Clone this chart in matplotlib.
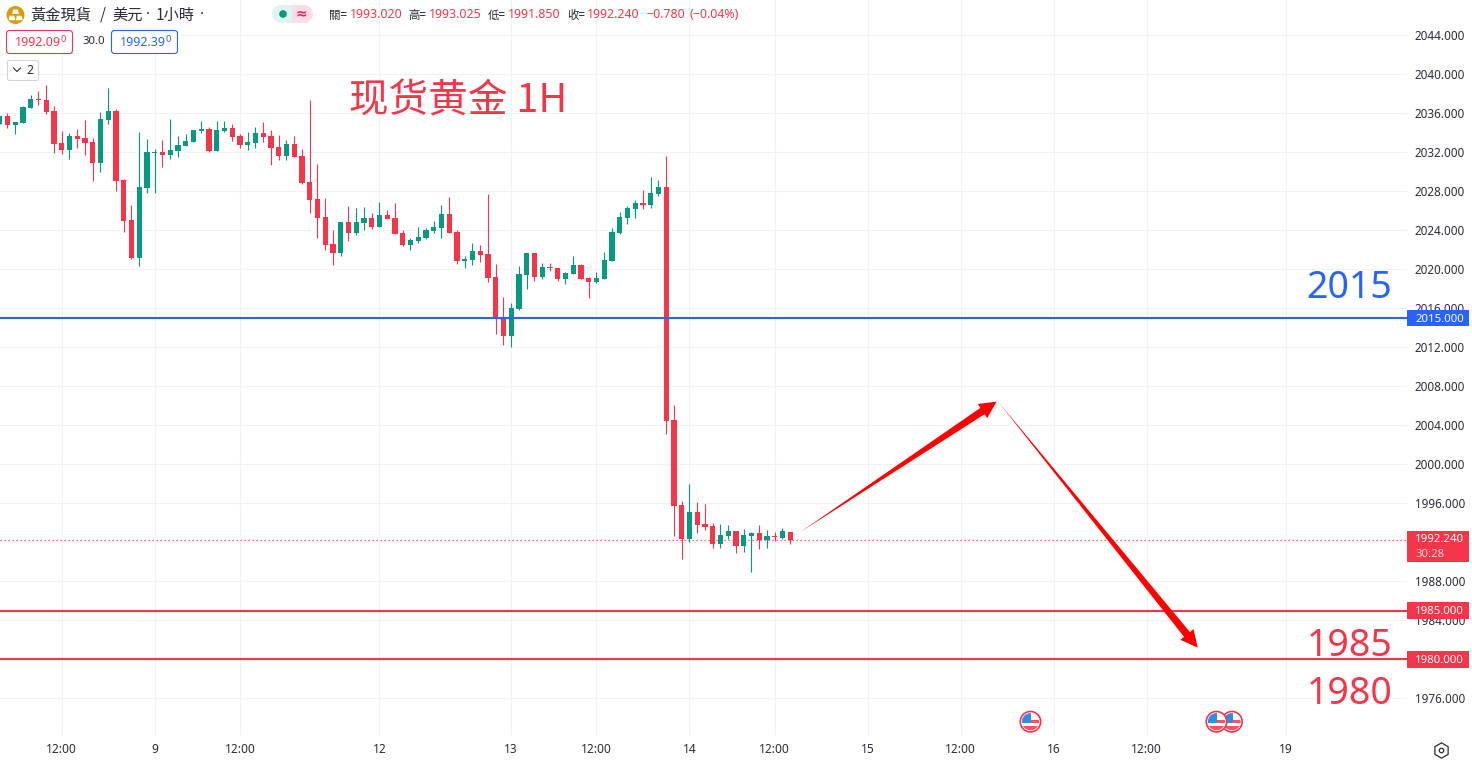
import matplotlib
matplotlib.use("Agg")
import matplotlib.pyplot as plt
import numpy as np
from matplotlib.patches import Circle, Rectangle, FancyBboxPatch, Polygon
from matplotlib.transforms import IdentityTransform

opens = [2034.87,2035.69,2034.77,2034.97,2036.51,2037.44,2037.33,2036.21,2032.92,2032.21,
         2033.64,2033.44,2033.03,2030.87,2035.28,2036.21,2029.13,2025.03,2021.13,2028.31,
         2031.90,2032.00,2031.69,2032.10,2032.62,2033.03,2034.15,2034.36,2032.10,2034.15,
         2034.46,2033.64,2032.72,2032.92,2033.95,2033.64,2032.51,2031.59,2032.82,2031.59,
         2028.92,2027.18,2025.33,2022.56,2021.64,2024.82,2023.69,2024.72,2025.23,2024.31,
         2025.54,2025.23,2023.69,2022.46,2022.87,2023.18,2023.90,2024.20,2025.64,2023.79,
         2020.82,2020.92,2021.85,2021.54,2019.18,2015.08,2013.13,2015.90,2019.38,2021.64,
         2019.18,2020.20,2020.10,2018.97,2019.49,2020.41,2019.08,2018.67,2018.97,2020.82,
         2023.69,2025.23,2026.15,2026.77,2026.56,2027.69,2028.41,2004.52,1995.80,1992.31,
         1995.08,1993.85,1993.64,1991.80,1992.62,1993.13,1991.59,1992.62,1992.93,1992.21,
         1992.62,1992.41,1993.02]
highs = [2035.73,2036.00,2035.08,2036.72,2037.85,2038.25,2038.87,2036.72,2034.15,2033.95,
         2034.36,2035.28,2033.44,2036.10,2038.56,2036.41,2029.23,2026.56,2034.05,2033.33,
         2032.31,2033.23,2035.38,2033.64,2033.85,2034.26,2035.18,2034.56,2035.18,2035.18,
         2034.87,2033.85,2034.05,2034.56,2035.08,2034.26,2033.74,2033.23,2033.64,2032.31,
         2037.33,2030.77,2027.28,2024.00,2024.82,2026.46,2026.26,2026.36,2025.74,2026.87,
         2026.05,2026.77,2024.00,2023.18,2024.31,2024.20,2024.92,2026.56,2027.38,2024.00,
         2021.33,2022.67,2022.46,2027.69,2020.51,2017.13,2016.51,2020.31,2021.64,2021.64,
         2020.61,2020.61,2020.10,2019.69,2021.33,2020.51,2019.18,2019.69,2021.74,2024.20,
         2025.85,2026.46,2027.08,2028.10,2029.44,2029.13,2031.60,2006.05,1996.21,1997.95,
         1996.11,1995.90,1993.95,1993.85,1993.75,1993.13,1993.34,1993.03,1993.75,1993.23,
         1993.03,1993.44,1993.025]
lows = [2034.87,2034.46,2033.85,2034.97,2036.51,2036.82,2035.90,2031.90,2031.80,2031.28,
        2032.41,2031.69,2029.03,2029.95,2034.87,2028.00,2023.79,2021.03,2020.31,2027.79,
        2027.79,2030.46,2031.28,2031.49,2032.62,2033.03,2033.95,2032.00,2032.10,2034.05,
        2033.13,2032.41,2032.21,2032.41,2033.03,2030.67,2031.18,2031.18,2031.49,2028.72,
        2025.74,2023.18,2021.95,2020.41,2021.33,2022.87,2023.49,2024.00,2024.10,2024.31,
        2025.13,2023.59,2022.36,2021.95,2022.67,2023.08,2023.69,2023.18,2023.69,2020.51,
        2020.10,2020.41,2020.72,2018.67,2013.33,2012.20,2012.00,2015.79,2017.95,2018.77,
        2018.97,2019.79,2018.77,2018.46,2019.49,2018.97,2017.02,2018.56,2018.97,2020.82,
        2023.59,2024.61,2025.23,2026.15,2026.26,2027.49,2003.08,1992.62,1990.26,1992.00,
        1992.93,1993.23,1991.39,1991.39,1992.31,1990.88,1990.98,1988.93,1991.29,1991.39,
        1992.11,1992.31,1991.85]
closes = [2035.73,2034.77,2035.08,2036.62,2037.44,2037.37,2036.10,2032.82,2032.21,2033.64,
          2033.33,2032.92,2030.87,2035.38,2036.21,2029.03,2024.92,2021.13,2028.41,2032.00,
          2032.00,2031.69,2032.21,2032.72,2033.13,2034.26,2034.36,2032.10,2034.26,2034.46,
          2033.54,2032.72,2033.03,2033.95,2033.54,2032.41,2031.59,2032.82,2031.49,2028.82,
          2027.08,2025.23,2022.46,2021.64,2024.82,2023.69,2024.82,2025.23,2024.31,2025.54,
          2025.13,2023.59,2022.46,2022.97,2023.28,2024.00,2024.31,2025.64,2023.69,2020.82,
          2021.02,2021.85,2021.44,2019.08,2014.97,2013.13,2016.00,2019.49,2021.64,2019.18,
          2020.20,2020.10,2018.97,2019.59,2020.41,2018.97,2018.67,2019.08,2020.92,2023.79,
          2025.33,2026.26,2026.77,2026.56,2027.79,2028.41,2004.41,1995.70,1992.31,1995.08,
          1993.75,1993.54,1991.80,1992.72,1993.13,1991.59,1992.72,1992.93,1992.21,1992.62,
          1992.52,1993.13,1992.24]

x_tick_pos = [8, 20, 31, 49, 66, 77, 89, 100, 112, 124, 136, 148, 166]
x_tick_labels = ["12:00", "9", "12:00", "12", "13", "12:00", "14", "12:00", "15", "12:00", "16", "12:00", "19"]
y_ticks = list(range(1976, 2045, 4))
level_blue = 2015.0
levels_red = [1985.0, 1980.0]
last_price = 1992.24
arrow_up_x, arrow_up_y = [103.26, 128.64], [1993.03, 2006.43]
arrow_down_x, arrow_down_y = [128.80, 154.58], [2006.46, 1981.20]
bid, spread, ask = "1992.09", "30.0", "1992.39"
ohlc_labels = ["關=", "高=", "低=", "收="]
ohlc_values = ["1993.020", "1993.025", "1991.850", "1992.240"]
change_text = ["−0.780", "(−0.04%)"]
event_bars = [133, 157, 159]

RED = "#F5364A"
GREEN = "#089981"
BLUE = "#2962FF"
TXT = "#2A2E39"
CJK = ["Noto Sans CJK TC", "DejaVu Sans"]
SC = ["Noto Sans CJK SC", "DejaVu Sans"]
NS = "Noto Sans"

W, H, RIGHT, BOTTOM = 1472, 762, 1407, 735
ytop, ybot = 2047.622, 1972.24
fig = plt.figure(figsize=(W / 100, H / 100), dpi=100, facecolor="white")
ax = fig.add_axes([0, 1 - BOTTOM / H, RIGHT / W, BOTTOM / H])
ax.set_xlim(0.0387, 181.59)
ax.set_ylim(ybot, ytop)
for s in ax.spines.values():
    s.set_visible(False)
ax.set_axisbelow(True)
ax.grid(True, color="#F1F2F4", lw=0.75)
ax.yaxis.tick_right()
ax.set_yticks(y_ticks)
ax.set_yticklabels([f"{v:.3f}" for v in y_ticks], fontfamily=NS, fontsize=8.45, color=TXT)
ax.set_xticks(x_tick_pos)
ax.set_xticklabels(x_tick_labels, fontfamily=NS, fontsize=8.6, color=TXT)
ax.get_xticklabels()[3].set_fontweight("bold")
ax.tick_params(axis="y", length=0, pad=5.6)
ax.tick_params(axis="x", length=0, pad=5.8)

# candles
idx = np.arange(len(opens))
o, h, l, c = map(np.array, (opens, highs, lows, closes))
cols = [RED if c_ < o_ else GREEN for o_, c_ in zip(o, c)]
ax.vlines(idx, l, h, colors=cols, lw=0.8, zorder=3)
body_h = np.abs(c - o)
ax.bar(idx, np.maximum(body_h, 0.1), bottom=np.minimum(o, c), width=0.68, color=cols, lw=0, zorder=4)

# levels
ax.axhline(level_blue, color=BLUE, lw=1.5, zorder=5)
for lv in levels_red:
    ax.axhline(lv, color=RED, lw=1.5, zorder=5)
ax.axhline(last_price, color=RED, lw=0.9, ls=(0, (1, 2.2)), zorder=2)

# tapered arrows
def tapered(xs, ys):
    (x0, y0), (x1, y1) = ax.transData.transform(list(zip(xs, ys)))
    p0, p1 = np.array([x0, y0]), np.array([x1, y1])
    u = (p1 - p0) / np.linalg.norm(p1 - p0)
    n = np.array([-u[1], u[0]])
    neck = p1 - u * 17
    pts = [p0, neck + n * 3.8, neck + n * 8.5, p1, neck - n * 8.5, neck - n * 3.8]
    ax.add_patch(Polygon(pts, closed=True, facecolor="#FF0000", edgecolor="none",
                         transform=IdentityTransform(), zorder=6, clip_on=False))

tapered(arrow_up_x, arrow_up_y)
tapered(arrow_down_x, arrow_down_y)

# overlay in screen pixels for the UI furniture
ov = fig.add_axes([0, 0, 1, 1], zorder=10)
ov.set_xlim(0, W)
ov.set_ylim(H, 0)
ov.axis("off")
ov.patch.set_alpha(0)
def py(p):
    return (ytop - p) / (ytop - ybot) * BOTTOM

# header backgrounds
ov.add_patch(Rectangle((0, 0), 206, 28, fc="white", ec="none"))
ov.add_patch(Rectangle((0, 28), 180, 26, fc="white", ec="none"))

# logo
ov.add_patch(Circle((15.5, 15), 9, fc="#DB9C08", ec="none"))
for bx, by in [(12.2, 9.5), (8.6, 15.7), (15.9, 15.7)]:
    ov.add_patch(Polygon([(bx + 1, by), (bx + 5.6, by), (bx + 6.8, by + 4.5), (bx, by + 4.5)], fc="white", ec="none"))
for tx, s in [(30, "黃金現貨"), (100, "/"), (112, "美元"), (156, "1小時")]:
    ov.text(tx, 15, s, family=CJK, fontsize=11, color=TXT, va="center", ha="left")
for tx in (147.5, 201.5):
    ov.text(tx, 15, "·", family=NS, fontsize=11, fontweight="bold", color=TXT, va="center", ha="center")

# status pill
ov.add_patch(FancyBboxPatch((281, 5), 12, 18, boxstyle="round,pad=0,rounding_size=0", fc="#DFF3F0", ec="none"))
ov.add_patch(Circle((281, 14), 9, fc="#DFF3F0", ec="none"))
ov.add_patch(Rectangle((292, 5), 12, 18, fc="#FCDCE6", ec="none"))
ov.add_patch(Circle((304, 14), 9, fc="#FCDCE6", ec="none"))
ov.add_patch(Circle((283, 14), 3.8, fc=GREEN, ec="none"))
ov.text(301, 13.5, "≈", family="DejaVu Sans", fontsize=10, color="#E91E63", ha="center", va="center", fontweight="bold")

# OHLC
lab_x = [329, 408, 488, 567]
val_x = [349.5, 429, 508, 587]
for lx, vx, lb, vl in zip(lab_x, val_x, ohlc_labels, ohlc_values):
    ov.text(lx, 15, lb, family=CJK, fontsize=8.3, color=TXT, va="center", ha="left")
    ov.text(vx, 15, vl, family=NS, fontsize=8.9, color=RED, va="center", ha="left")
ov.text(646, 15, change_text[0], family=NS, fontsize=8.9, color=RED, va="center", ha="left")
ov.text(690, 15, change_text[1], family=NS, fontsize=8.9, color=RED, va="center", ha="left")

# bid / spread / ask
ov.add_patch(FancyBboxPatch((6.5, 30.5), 66, 23, boxstyle="round,pad=0,rounding_size=3", fc="white", ec=RED, lw=0.8))
ov.add_patch(FancyBboxPatch((111.5, 30.5), 66, 23, boxstyle="round,pad=0,rounding_size=3", fc="white", ec=BLUE, lw=0.8))
ov.text(14.5, 42.5, bid, family=NS, fontsize=9, color=RED, va="center", ha="left")
ov.text(60.5, 39.5, "0", family=NS, fontsize=6.8, color=RED, va="center", ha="left")
ov.text(119.5, 42.5, ask, family=NS, fontsize=9, color=BLUE, va="center", ha="left")
ov.text(165.5, 39.5, "0", family=NS, fontsize=6.8, color=BLUE, va="center", ha="left")
ov.text(82, 42, spread, family=NS, fontsize=8.2, color=TXT, va="center", ha="left")
ov.add_patch(FancyBboxPatch((7.5, 60.5), 31, 20, boxstyle="round,pad=0,rounding_size=2", fc="white", ec="#D1D4DC", lw=0.8))
ov.plot([13.5, 17, 20.5], [68, 71.5, 68], color=TXT, lw=0.8)
ov.text(26.5, 70.5, "2", family=NS, fontsize=8.8, color=TXT, va="center", ha="left")

# big annotations
ov.text(349, 100.5, "现货黄金 1H", family=SC, fontsize=28.5, color=RED, va="center", ha="left")
ov.text(1349, 287.5, "2015", family=NS, fontsize=27, color=BLUE, va="center", ha="center")
ov.text(1350, 646.5, "1985", family=NS, fontsize=27, color=RED, va="center", ha="center")
ov.text(1350, 694.5, "1980", family=NS, fontsize=27, color=RED, va="center", ha="center")

# price tags
def tag(p, color):
    y = py(p)
    ov.add_patch(Rectangle((RIGHT, y - 8.4), 62, 16.8, fc=color, ec="none"))
    ov.text(1415, y + 1, f"{p:.3f}", family=NS, fontsize=8.2, color="white", va="center", ha="left", fontweight="bold")

tag(level_blue, BLUE)
for lv in levels_red:
    tag(lv, RED)
y_last = py(last_price)
ov.add_patch(Rectangle((RIGHT, y_last - 9), 62, 31, fc=RED, ec="none"))
ov.text(1415, y_last, f"{last_price:.3f}", family=NS, fontsize=8.2, color="white", va="center", ha="left", fontweight="bold")
ov.text(1415, y_last + 14.5, "30:28", family=NS, fontsize=8.2, color="#FBD0D5", va="center", ha="left")

# event flags
for b in event_bars[::-1]:
    cx = -0.3 + 7.75 * b
    cy = 721.7
    clip = Circle((cx, cy), 8.6, transform=ov.transData)
    ov.add_patch(Circle((cx, cy), 10.6, fc="white", ec="none"))
    parts = [Rectangle((cx - 11, cy - 11), 22, 22, fc="white", ec="none"),
             Rectangle((cx + 1, cy - 1.7), 11, 3.4, fc="#F2555F", ec="none"),
             Rectangle((cx - 11, cy + 4.3), 22, 7, fc="#F2555F", ec="none"),
             Rectangle((cx - 11, cy - 11), 12, 12.7, fc="#2E8DEB", ec="none")]
    for pt in parts:
        ov.add_patch(pt)
        pt.set_clip_path(clip)
    ov.add_patch(Circle((cx, cy), 10.2, fc="none", ec="#F5364A", lw=1.2))

# gear
ov.plot([1441], [750], marker="h", ms=11, mfc="white", mec=TXT, mew=0.9)
ov.plot([1441], [750], marker="o", ms=3.2, mfc="white", mec=TXT, mew=0.9)

fig.savefig("out.png", dpi=100, facecolor="white")
